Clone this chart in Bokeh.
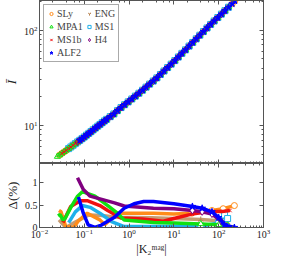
import numpy as np
from bokeh.plotting import figure
from bokeh.models import (LogAxis, LinearAxis, Legend, LegendItem, FixedTicker,
                          NumeralTickFormatter, Range1d, LogTicker)
from bokeh.layouts import column
from bokeh.embed import file_html
from bokeh.resources import INLINE

# ---------------- data ----------------
EOS = ["SLy", "ENG", "MPA1", "MS1", "MS1b", "H4", "ALF2"]
COLORS = {"SLy": "#ff8c1a", "ENG": "#b8824e", "MPA1": "#11e011", "MS1": "#1fb0ea",
          "MS1b": "#f01010", "H4": "#800080", "ALF2": "#0000ff"}

# |K2^mag| sample points and Ibar along the universal curve (top panel)
K_GRID = [0.0251, 0.0282, 0.0316, 0.0355, 0.0398, 0.0447, 0.0501, 0.0562, 0.0631, 0.0708,
          0.0794, 0.0891, 0.100, 0.112, 0.126, 0.141, 0.158, 0.178, 0.200, 0.224,
          0.251, 0.282, 0.316, 0.380, 0.457, 0.550, 0.661, 0.794, 0.955, 1.15,
          1.38, 1.66, 2.00, 2.40, 2.88, 3.47, 4.17, 5.01, 6.03, 7.24,
          8.71, 10.5, 12.6, 15.1, 18.2, 21.9, 26.3, 31.6, 38.0, 45.7,
          55.0, 66.1, 79.4, 95.5, 115.0, 138.0, 166.0, 200.0, 229.0]
IBAR_GRID = [4.73, 4.91, 5.11, 5.30, 5.50, 5.73, 5.96, 6.21, 6.46, 6.73,
             7.00, 7.29, 7.59, 7.93, 8.28, 8.63, 9.02, 9.42, 9.84, 10.26,
             10.72, 11.17, 11.61, 12.39, 13.21, 14.32, 15.42, 16.52, 17.70, 18.97,
             20.32, 21.78, 23.44, 25.23, 27.16, 29.24, 31.55, 34.28, 37.24, 40.46,
             43.95, 47.86, 52.24, 57.02, 62.09, 67.92, 74.13, 80.91, 88.31, 96.38,
             105.2, 114.6, 124.5, 135.2, 146.9, 159.6, 173.4, 188.4, 201.8]
# index range of the grid covered by each EoS
START = {"SLy": 1, "ENG": 1, "MPA1": 0, "MS1": 5, "MS1b": 2, "H4": 9, "ALF2": 10}
END = {"SLy": 58, "ENG": 56, "MPA1": 56, "MS1": 56, "MS1b": 57, "H4": 55, "ALF2": 58}

# residuals Delta(%) vs |K2^mag| (bottom panel)
K_SLY = [0.0272, 0.0302, 0.0349, 0.0386, 0.0577, 0.0741, 0.116, 0.223, 0.286, 0.548, 1.41, 3.49, 10.0, 25.1, 70.8, 126, 224]
D_SLY = [0.38, 0.35, 0.15, 0.02, 0.0, 0.15, 0.32, 0.17, 0.06, 0.32, 0.32, 0.32, 0.30, 0.32, 0.38, 0.42, 0.49]
K_ENG = [0.0272, 0.0386, 0.0631, 0.126, 0.251, 0.501, 3.16, 10.0, 39.8, 100, 158]
D_ENG = [0.17, 0.0, 0.12, 0.28, 0.27, 0.23, 0.22, 0.20, 0.18, 0.15, 0.12]
K_MPA1 = [0.0259, 0.0288, 0.0331, 0.0372, 0.0501, 0.0708, 0.0906, 0.135, 0.173, 0.333, 0.548, 0.778, 3.49, 10.0, 39.8, 100, 158]
D_MPA1 = [0.26, 0.29, 0.17, 0.20, 0.45, 0.70, 0.80, 0.74, 0.70, 0.49, 0.32, 0.17, 0.11, 0.10, 0.08, 0.06, 0.05]
K_MS1 = [0.0449, 0.0631, 0.0906, 0.135, 0.223, 0.406, 0.778, 3.49, 10.0, 39.8, 100, 135, 158]
D_MS1 = [0.11, 0.35, 0.49, 0.45, 0.32, 0.13, 0.02, 0.02, 0.03, 0.03, 0.10, 0.28, 0.20]
K_MS1B = [0.0333, 0.0497, 0.0818, 0.116, 0.223, 0.333, 0.670, 2.0, 5.8, 10.0, 25.1, 70.8, 126, 178]
D_MS1B = [0.11, 0.47, 0.60, 0.60, 0.49, 0.38, 0.21, 0.19, 0.14, 0.20, 0.30, 0.36, 0.36, 0.38]
K_H4 = [0.0705, 0.0951, 0.135, 0.223, 0.472, 0.778, 3.49, 10.0, 25.9, 42.7, 70.8, 117]
D_H4 = [1.11, 0.85, 0.70, 0.64, 0.55, 0.48, 0.43, 0.42, 0.38, 0.35, 0.30, 0.13]
K_ALF2 = [0.0741, 0.0951, 0.122, 0.173, 0.223, 0.246, 0.472, 0.778, 1.29, 2.12, 3.49, 10.0, 25.9, 42.7, 70.8, 100, 135, 224]
D_ALF2 = [0.68, 0.32, 0.06, 0.0, 0.04, 0.06, 0.23, 0.43, 0.53, 0.58, 0.58, 0.53, 0.47, 0.43, 0.35, 0.22, 0.06, 0.0]
RESID = {"SLy": (K_SLY, D_SLY), "ENG": (K_ENG, D_ENG), "MPA1": (K_MPA1, D_MPA1),
         "MS1": (K_MS1, D_MS1), "MS1b": (K_MS1B, D_MS1B), "H4": (K_H4, D_H4),
         "ALF2": (K_ALF2, D_ALF2)}

X_RANGE = (0.01, 1000)
IBAR_RANGE = (4.0, 204.0)
IBAR_TICKS = [10, 100]
IBAR_MINOR = [4, 5, 6, 7, 8, 9, 20, 30, 40, 50, 60, 70, 80, 90, 200]
DELTA_RANGE = (0.0, 1.43)
DELTA_TICKS = [0, 0.5, 1]
MARKER_K_MIN = 20.0   # residual points beyond this |K2^mag| drawn as open markers

# ---------------- style ----------------
FONT = "Liberation Serif"
AX = "#555555"


def style_axis(ax, labels=True):
    ax.axis_line_color = AX
    ax.major_tick_line_color = AX
    ax.minor_tick_line_color = AX
    ax.major_tick_in = 4
    ax.major_tick_out = 0
    ax.minor_tick_in = 2
    ax.minor_tick_out = 0
    ax.major_label_text_font = FONT
    ax.axis_label_text_font = FONT
    ax.axis_label_text_font_style = "normal"
    ax.axis_label_text_color = "#222222"
    ax.major_label_text_color = "#222222"
    if labels:
        ax.major_label_text_font_size = "10px"
        ax.major_label_standoff = 2
    else:
        ax.major_label_text_font_size = "1px"
        ax.major_label_text_alpha = 0.0
        ax.major_label_standoff = 0
    ax.axis_label_standoff = 2


# ---------------- top panel ----------------
top = figure(x_axis_type="log", y_axis_type="log",
             x_range=Range1d(*X_RANGE), y_range=Range1d(*IBAR_RANGE),
             frame_width=224, frame_height=163,
             min_border_left=35, min_border_right=9, min_border_top=0, min_border_bottom=0,
             output_backend="svg", toolbar_location=None, y_axis_label="Ī")
top.grid.visible = False
top.outline_line_color = AX
style_axis(top.xaxis[0], labels=False)
style_axis(top.yaxis[0])
top.yaxis[0].axis_label_text_font_size = "13px"
top.yaxis[0].axis_label_text_font_style = "italic"
top.yaxis[0].ticker = FixedTicker(ticks=IBAR_TICKS, minor_ticks=IBAR_MINOR)
ax_t = LogAxis(ticker=LogTicker())
style_axis(ax_t, labels=False)
top.add_layout(ax_t, "above")
ax_r = LogAxis(ticker=FixedTicker(ticks=IBAR_TICKS, minor_ticks=IBAR_MINOR))
style_axis(ax_r, labels=False)
top.add_layout(ax_r, "right")

markers = {"SLy": ("circle", 6), "ENG": ("y", 6), "MPA1": ("triangle", 6), "MS1": ("square", 6),
           "MS1b": ("x", 5), "H4": ("diamond", 7), "ALF2": ("star", 7)}
filled = {"ALF2"}
renderers = {}
draw_order = ["SLy", "ENG", "MS1", "MPA1", "H4", "MS1b", "ALF2"]
for name in draw_order:
    s, e = START[name], END[name] + 1
    mk, sz = markers[name]
    r = top.scatter(K_GRID[s:e], IBAR_GRID[s:e], marker=mk, size=sz,
                    line_color=COLORS[name], line_width=1,
                    fill_color=COLORS[name] if name in filled else None,
                    angle=np.pi if name == "ENG" else 0.0)
    renderers[name] = r

# column-major legend layout: left column SLy, MPA1, MS1b, ALF2; right column ENG, MS1, H4
legend_order = ["SLy", "MPA1", "MS1b", "ALF2", "ENG", "MS1", "H4"]
legend = Legend(items=[LegendItem(label=n, renderers=[renderers[n]]) for n in legend_order],
                location="top_left", ncols=2)
legend.label_text_font = FONT
legend.label_text_font_size = "10px"
legend.label_height = 9
legend.glyph_height = 9
legend.glyph_width = 8
legend.label_standoff = 2
legend.spacing = 2
legend.padding = 3
legend.margin = 4
legend.border_line_color = AX
legend.border_line_width = 1.2
top.add_layout(legend)

# ---------------- bottom panel ----------------
bot = figure(x_axis_type="log", x_range=top.x_range, y_range=Range1d(*DELTA_RANGE),
             frame_width=224, frame_height=64,
             min_border_left=35, min_border_right=9, min_border_top=0, min_border_bottom=28,
             output_backend="svg", toolbar_location=None,
             y_axis_label="Δ(%)", x_axis_label="|K₂ᵐᵃᵍ|")
bot.grid.visible = False
bot.outline_line_color = AX
style_axis(bot.xaxis[0])
style_axis(bot.yaxis[0])
bot.xaxis[0].axis_label_text_font_size = "12px"
bot.xaxis[0].major_label_standoff = 1
bot.xaxis[0].axis_label_standoff = 1
bot.yaxis[0].axis_label_text_font_size = "13px"
bot.yaxis[0].ticker = FixedTicker(ticks=DELTA_TICKS)
bot.yaxis[0].formatter = NumeralTickFormatter(format="0.[0]")
ax_bt = LogAxis(ticker=LogTicker())
style_axis(ax_bt, labels=False)
bot.add_layout(ax_bt, "above")
ax_br = LinearAxis(ticker=FixedTicker(ticks=DELTA_TICKS))
style_axis(ax_br, labels=False)
bot.add_layout(ax_br, "right")

for name in ["ENG", "MS1", "SLy", "MS1b", "MPA1", "H4", "ALF2"]:
    k, d = RESID[name]
    bot.line(k, d, line_color=COLORS[name], line_width=3.5,
             line_alpha=0.8 if name == "ENG" else 1.0)
    kk = [x for x in k if x >= MARKER_K_MIN]
    dd = [y for x, y in zip(k, d) if x >= MARKER_K_MIN]
    mk, sz = markers[name]
    bot.scatter(kk, dd, marker=mk, size=sz, line_color=COLORS[name], line_width=1,
                fill_color="white" if name not in filled else COLORS[name],
                angle=np.pi if name == "ENG" else 0.0)

layout = column(top, bot)
open("out.html", "w").write(file_html(layout, INLINE))
